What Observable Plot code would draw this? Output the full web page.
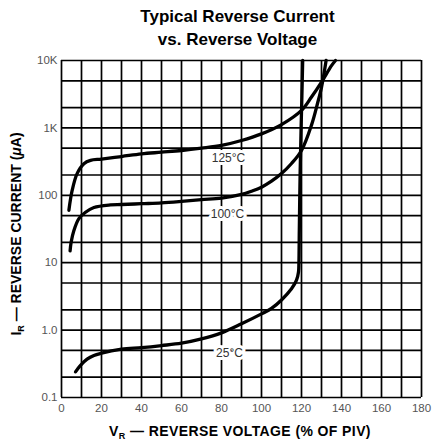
<!DOCTYPE html>
<html>
<head>
<meta charset="utf-8">
<script src="https://cdn.jsdelivr.net/npm/d3@7"></script>
<script src="https://cdn.jsdelivr.net/npm/@observablehq/plot@0.6"></script>
<style>
  html, body { margin: 0; padding: 0; background: white; }
  #title { box-sizing: border-box; width: 433px; height: 52px; padding-top: 5px; padding-left: 42px;
    text-align: center; font: bold 17px "Liberation Sans", Arial, sans-serif; line-height: 23px; color: #000; }
  svg { display: block; }
</style>
</head>
<body>
<div id="title">Typical Reverse Current<br>vs. Reverse Voltage</div>
<div id="chart"></div>
<script>
// grid and tick definitions
const xGrid = [0, 10, 20, 30, 40, 50, 60, 70, 80, 90, 100, 110, 120, 130, 140, 150, 160, 170, 180];
const yGrid = [0.1, 0.2, 0.5, 1, 2, 5, 10, 20, 50, 100, 200, 500, 1000, 2000, 5000, 10000];
const xTicks = [0, 20, 40, 60, 80, 100, 120, 140, 160, 180];
const yTicks = [0.1, 1, 10, 100, 1000, 10000];
const yTickLabels = ["0.1", "1.0", "10", "100", "1K", "10K"];

// 125°C series (V_R % of PIV, I_R µA)
const v125 = [3.7, 5.3, 7.8, 11.2, 14.5, 20, 30, 40, 50, 60, 70, 80, 90, 100, 110, 120, 125, 130, 135, 137];
const i125 = [60, 117, 210, 295, 330, 345, 376, 412, 436, 462, 500, 550, 650, 815, 1120, 1820, 2870, 4770, 8400, 10000];

// 100°C series
const v100 = [4.3, 4.8, 6.2, 8.7, 12, 16.2, 24.5, 30, 40, 50, 60, 70, 80, 90, 95, 100, 105, 110, 115, 120, 125, 128, 130, 132.3];
const i100 = [15, 20, 30, 45, 56, 66, 72, 73, 75, 77, 81, 86, 91, 103, 115, 132, 162, 210, 296, 462, 1100, 2300, 4000, 10000];

// 25°C series
const v25 = [7, 9.5, 12.8, 16.2, 19.5, 30, 40, 50, 60, 70, 80, 90, 100, 105, 110, 115, 117.5, 118.5, 118.7, 118.9, 119.3, 119.8, 120.2, 120.6];
const i25 = [0.24, 0.30, 0.37, 0.42, 0.45, 0.52, 0.55, 0.59, 0.64, 0.74, 0.91, 1.24, 1.74, 2.1, 2.8, 4.1, 5.5, 7.3, 10, 30, 200, 1000, 3000, 10000];

// curve labels
const labelText = ["125°C", "100°C", "25°C"];
const labelV = [83.5, 83, 84];
const labelI = [350, 52, 0.46];

const toRows = (vs, is, name) => vs.map((v, k) => ({v, i: is[k], name}));
const rows = [...toRows(v125, i125, "125"), ...toRows(v100, i100, "100"), ...toRows(v25, i25, "25")];
const labels = labelText.map((t, k) => ({t, v: labelV[k], i: labelI[k]}));

const plot = Plot.plot({
  width: 433,
  height: 391,
  marginTop: 8,
  marginBottom: 46,
  marginLeft: 61,
  marginRight: 12,
  style: {fontFamily: "'Liberation Sans', Arial, sans-serif", background: "white", color: "black"},
  x: {domain: [0, 180]},
  y: {type: "log", domain: [0.1, 10000]},
  marks: [
    Plot.ruleX(xGrid, {stroke: "black", strokeWidth: 1.7}),
    Plot.ruleY(yGrid, {stroke: "black", strokeWidth: 1.7}),
    Plot.line(rows, {x: "v", y: "i", z: "name", stroke: "black", strokeWidth: 3.3, curve: "catmull-rom"}),
    Plot.text(labels, {x: "v", y: "i", text: "t", fill: "#333", stroke: "white", strokeWidth: 6, fontSize: 12}),
    Plot.axisX({ticks: xTicks, tickSize: 0, tickPadding: 6, fontSize: 11.5, fill: "#555", label: null}),
    Plot.axisY({ticks: yTicks, tickSize: 0, tickPadding: 4, fontSize: 11.5, fill: "#555", label: null,
      tickFormat: d => yTickLabels[yTicks.indexOf(d)]})
  ]
});
document.getElementById("chart").appendChild(plot);

// axis titles with subscripts
const svg = d3.select(plot);
const xl = svg.append("text")
  .attr("x", 240).attr("y", 384)
  .attr("text-anchor", "middle")
  .attr("font-family", "'Liberation Sans', Arial, sans-serif")
  .attr("font-weight", "bold").attr("font-size", 14).attr("letter-spacing", 0.4).attr("fill", "black");
xl.append("tspan").text("V");
xl.append("tspan").attr("font-size", 9).attr("dy", 3).text("R");
xl.append("tspan").attr("dy", -3).text(" — REVERSE VOLTAGE (% OF PIV)");

const yl = svg.append("text")
  .attr("transform", "translate(21,182) rotate(-90)")
  .attr("text-anchor", "middle")
  .attr("font-family", "'Liberation Sans', Arial, sans-serif")
  .attr("font-weight", "bold").attr("font-size", 14).attr("fill", "black");
yl.append("tspan").text("I");
yl.append("tspan").attr("font-size", 9).attr("dy", 3).text("R");
yl.append("tspan").attr("dy", -3).text(" — REVERSE CURRENT (");
yl.append("tspan").attr("font-style", "italic").text("μ");
yl.append("tspan").text("A)");
</script>
</body>
</html>
